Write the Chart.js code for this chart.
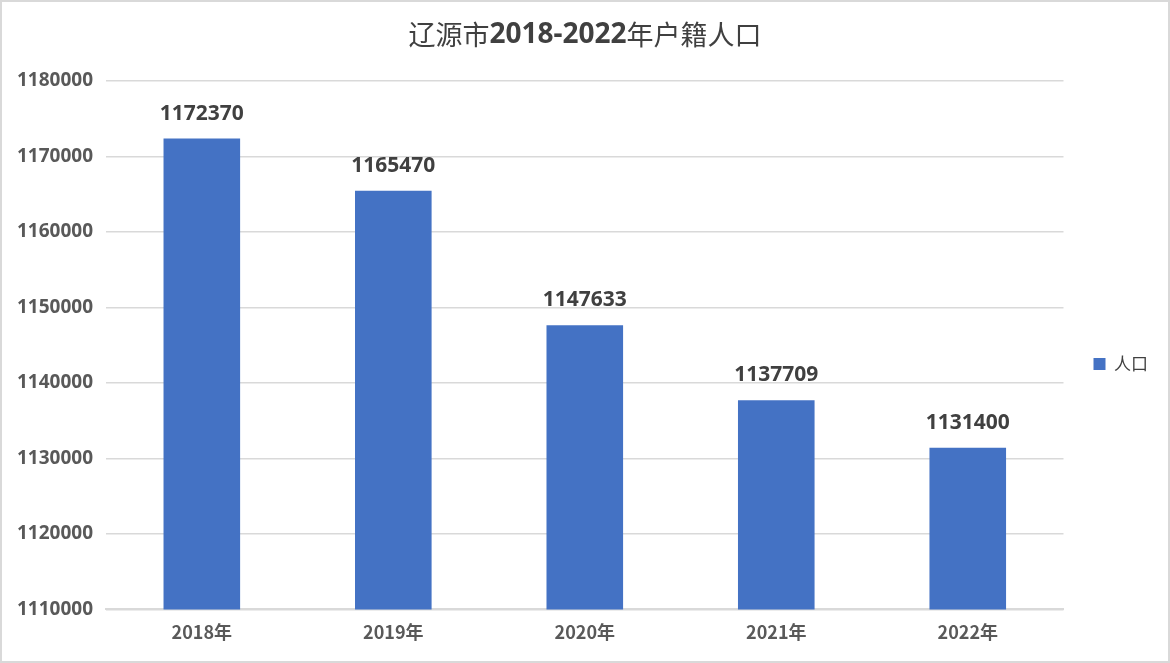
<!DOCTYPE html>
<html>
<head>
<meta charset="utf-8">
<script src="https://cdn.jsdelivr.net/npm/chart.js@4/dist/chart.umd.min.js"></script>
<style>
  html, body { margin: 0; padding: 0; background: #fff; }
  #wrap { width: 1170px; height: 663px; box-sizing: border-box; border: 2px solid #d9d9d9; background: #fff; }
</style>
</head>
<body>
<div id="wrap"><canvas id="chart"></canvas></div>
<script>
const years = ["2018年", "2019年", "2020年", "2021年", "2022年"];
const population = [1172370, 1165470, 1147633, 1137709, 1131400];
const yMin = 1110000;
const yMax = 1180000;
const yStep = 10000;

// title: CJK in normal weight, digits in bold, drawn by hand
const titleParts = [
  ["辽源市", "normal 27px 'Noto Sans CJK SC', serif"],
  ["2018-2022", "bold 28px 'Noto Sans', 'Open Sans', sans-serif"],
  ["年户籍人口", "normal 27px 'Noto Sans CJK SC', serif"],
];

const mixedTitle = {
  id: "mixedTitle",
  afterDraw(chart) {
    const ctx = chart.ctx;
    ctx.save();
    ctx.fillStyle = "#404040";
    ctx.textBaseline = "middle";
    ctx.textAlign = "left";
    let total = 0;
    titleParts.forEach(([t, f]) => { ctx.font = f; total += ctx.measureText(t).width; });
    let x = chart.width / 2 - total / 2;
    titleParts.forEach(([t, f]) => {
      ctx.font = f;
      ctx.fillText(t, x, 33);
      x += ctx.measureText(t).width;
    });
    ctx.restore();
  },
};

// value labels above each bar
const barLabels = {
  id: "barLabels",
  afterDatasetsDraw(chart) {
    const ctx = chart.ctx;
    const meta = chart.getDatasetMeta(0);
    ctx.save();
    ctx.font = "bold 21px 'Noto Sans', 'Open Sans', sans-serif";
    ctx.fillStyle = "#404040";
    ctx.textAlign = "center";
    ctx.textBaseline = "middle";
    meta.data.forEach((bar, i) => {
      ctx.fillText(String(population[i]), bar.x, bar.y - 25);
    });
    ctx.restore();
  },
};

new Chart(document.getElementById("chart"), {
  type: "bar",
  data: {
    labels: years,
    datasets: [
      {
        label: "人口",
        data: population,
        backgroundColor: "#4472C4",
        barPercentage: 0.4,
        categoryPercentage: 1,
      },
    ],
  },
  options: {
    responsive: true,
    maintainAspectRatio: false,
    animation: false,
    layout: { padding: { left: 2, right: 10, top: 79, bottom: 14 } },
    plugins: {
      title: { display: false },
      legend: {
        position: "right",
        labels: {
          boxWidth: 12,
          boxHeight: 12,
          padding: 30,
          color: "#404040",
          font: { size: 17, family: "'Noto Sans CJK SC', sans-serif" },
        },
      },
      tooltip: { enabled: false },
    },
    scales: {
      x: {
        grid: { display: false },
        border: { color: "#d9d9d9", width: 2 },
        ticks: {
          color: "#595959",
          padding: 4,
          font: { size: 18, weight: "bold", family: "'Noto Sans CJK SC', 'Noto Sans', sans-serif" },
        },
      },
      y: {
        min: yMin,
        max: yMax,
        grid: { color: "#d9d9d9", lineWidth: 1.5, drawTicks: false },
        border: { display: false },
        ticks: {
          stepSize: yStep,
          color: "#595959",
          padding: 13,
          font: { size: 19, weight: "bold", family: "'Noto Sans', 'Open Sans', sans-serif" },
          callback: (v) => String(v),
        },
      },
    },
  },
  plugins: [barLabels, mixedTitle],
});
</script>
</body>
</html>
